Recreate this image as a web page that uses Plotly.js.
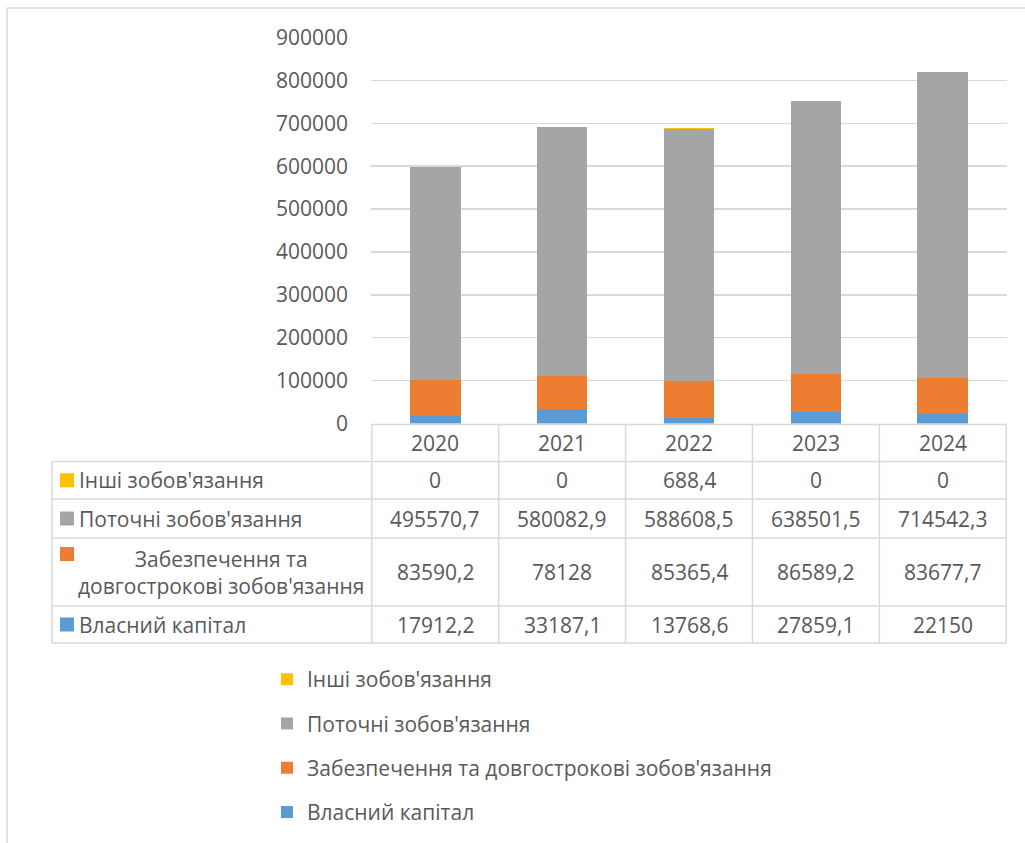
<!DOCTYPE html>
<html>
<head>
<meta charset="utf-8">
<script src="https://cdn.plot.ly/plotly-3.0.1.min.js"></script>
<style>html,body{margin:0;padding:0;background:#fff;}#chart{width:1025px;height:843px;}</style>
</head>
<body>
<div id="chart"></div>
<script>
// ---- data ----
const years = ["2020", "2021", "2022", "2023", "2024"];
const seriesNames = ["Власний капітал", "Забезпечення та довгострокові зобов'язання", "Поточні зобов'язання", "Інші зобов'язання"];
const vlasnyiKapital = [17912.2, 33187.1, 13768.6, 27859.1, 22150];
const zabezpechennia = [83590.2, 78128, 85365.4, 86589.2, 83677.7];
const potochni = [495570.7, 580082.9, 588608.5, 638501.5, 714542.3];
const inshi = [0, 0, 688.4, 0, 0];
const colors = ["#5B9BD5", "#ED7D31", "#A5A5A5", "#FFC000"];
const tableLabels = ["Інші зобов'язання", "Поточні зобов'язання", "Забезпечення та<br>довгострокові зобов'язання", "Власний капітал"];

// ---- layout helpers ----
const W = 1025, H = 843;
const px = x => x / W;
const py = y => 1 - y / H;
const FONT = "Open Sans";
const TXT = "#595959";
const GRID = "#D9D9D9";
const FS = 21;

const values = [vlasnyiKapital, zabezpechennia, potochni, inshi];
const traces = values.map((v, i) => ({
  type: "bar",
  x: years,
  y: v,
  name: seriesNames[i],
  legendgroup: "g" + i,
  legendrank: 1000 - i * 10,
  marker: {color: colors[i], line: {width: 0}},
  hoverinfo: "skip"
}));

// table geometry (pixel rows)
const headerTop = 424.5, rowEdges = [461.5, 499, 538, 606, 643];
const tableLeft = 52, tableRight = 1007;
const shapes = [];
const lineStyle = {color: GRID, width: 1.5};
// horizontal lines
shapes.push({type: "line", xref: "paper", yref: "paper", x0: px(371), x1: px(tableRight), y0: py(headerTop), y1: py(headerTop), line: lineStyle});
rowEdges.forEach(y => shapes.push({type: "line", xref: "paper", yref: "paper", x0: px(tableLeft), x1: px(tableRight), y0: py(y), y1: py(y), line: lineStyle}));
// vertical lines: left edge of table
shapes.push({type: "line", xref: "paper", yref: "paper", x0: px(tableLeft), x1: px(tableLeft), y0: py(rowEdges[0]), y1: py(643), line: lineStyle});
// category boundaries
for (let i = 0; i <= years.length; i++) {
  shapes.push({type: "line", xref: "x", yref: "paper", x0: i - 0.5, x1: i - 0.5, y0: py(headerTop), y1: py(643), line: lineStyle});
}
// outer chart border (left + top)
shapes.push({type: "line", xref: "paper", yref: "paper", x0: px(7), x1: px(7), y0: py(8), y1: 0, line: {color: GRID, width: 1.5}});
shapes.push({type: "line", xref: "paper", yref: "paper", x0: px(7), x1: 1, y0: py(8), y1: py(8), line: {color: GRID, width: 1.5}});

const annotations = [];
const rowCenters = [(461.5 + 499) / 2, (499 + 538) / 2, (538 + 606) / 2, (606 + 643) / 2];
const headerCenter = (headerTop + 461.5) / 2;
const fmt = v => String(v).replace(".", ",");
years.forEach((yr, i) => {
  annotations.push({xref: "x", yref: "paper", x: i, y: py(headerCenter), text: yr, showarrow: false, xanchor: "center", yanchor: "middle", font: {family: FONT, size: FS, color: TXT}});
});
// rows top->bottom: inshi, potochni, zabezpechennia, vlasnyi
const rowSeries = [3, 2, 1, 0];
rowSeries.forEach((si, r) => {
  const yc = rowCenters[r];
  values[si].forEach((v, i) => {
    annotations.push({xref: "x", yref: "paper", x: i, y: py(yc), text: fmt(v), showarrow: false, xanchor: "center", yanchor: "middle", font: {family: FONT, size: FS, color: TXT}});
  });
  if (si === 1) {
    annotations.push({xref: "paper", yref: "paper", x: px(221), y: py(yc), text: tableLabels[r], showarrow: false, xanchor: "center", yanchor: "middle", align: "center", font: {family: FONT, size: FS, color: TXT}});
    shapes.push({type: "rect", xref: "paper", yref: "paper", x0: px(60), x1: px(74), y0: py(547), y1: py(561), fillcolor: colors[si], line: {width: 0}});
  } else {
    annotations.push({xref: "paper", yref: "paper", x: px(77), y: py(yc), text: tableLabels[r], showarrow: false, xanchor: "left", yanchor: "middle", font: {family: FONT, size: FS, color: TXT}});
    shapes.push({type: "rect", xref: "paper", yref: "paper", x0: px(60), x1: px(74), y0: py(yc - 7), y1: py(yc + 7), fillcolor: colors[si], line: {width: 0}});
  }
});

const layout = {
  width: W, height: H,
  margin: {l: 0, r: 0, t: 0, b: 0},
  paper_bgcolor: "#fff", plot_bgcolor: "#fff",
  barmode: "stack",
  bargap: 0.6,
  font: {family: FONT, size: FS, color: TXT},
  xaxis: {domain: [px(371), px(1007)], type: "category", showticklabels: false, showgrid: false, zeroline: false, showline: false, ticks: ""},
  yaxis: {domain: [py(423.5), py(37.5)], range: [0, 900000], dtick: 100000, tickformat: "d", showgrid: true, gridcolor: GRID, gridwidth: 1.5, zeroline: false, showline: false, ticks: "", ticklabelstandoff: 22, tickfont: {family: FONT, size: FS, color: TXT}},
  showlegend: true,
  legend: {x: px(267), xanchor: "left", y: py(659), yanchor: "top", traceorder: "grouped", tracegroupgap: 14, font: {family: FONT, size: FS, color: TXT}, bgcolor: "rgba(0,0,0,0)"},
  shapes: shapes,
  annotations: annotations
};

Plotly.newPlot("chart", traces, layout, {staticPlot: true, displayModeBar: false});
</script>
</body>
</html>
